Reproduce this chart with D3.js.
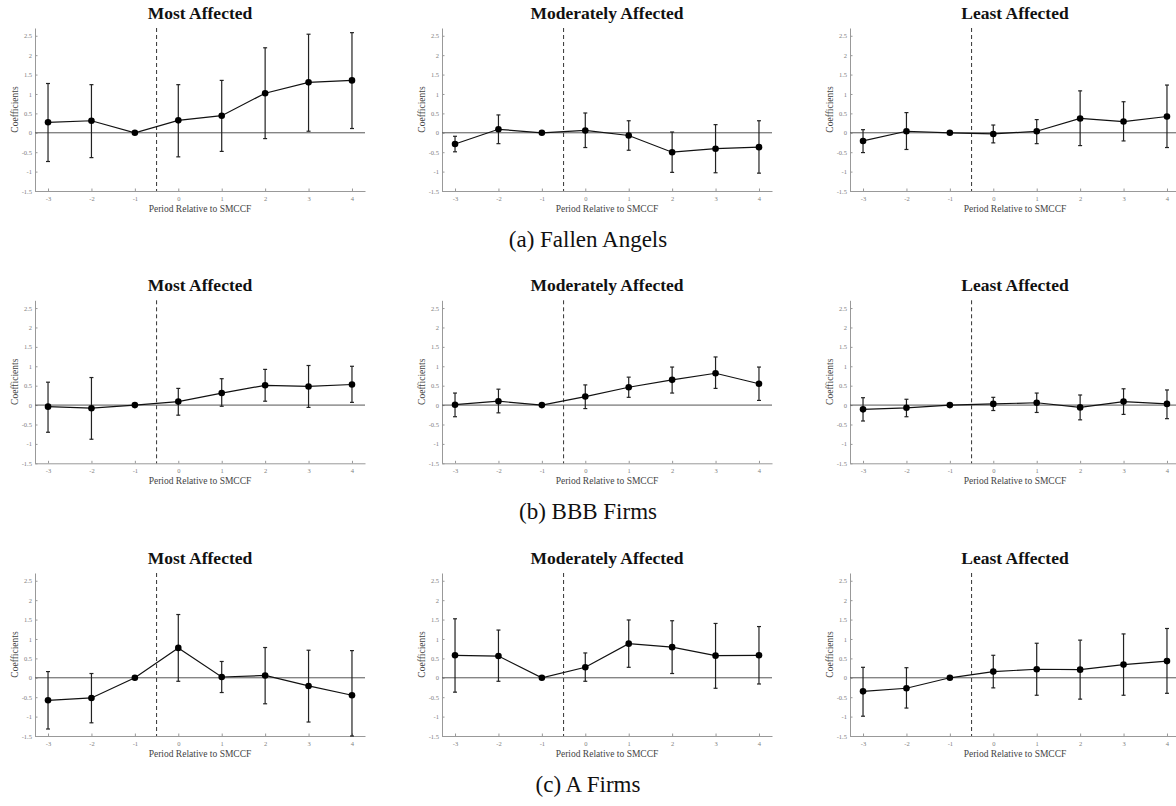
<!DOCTYPE html>
<html>
<head>
<meta charset="utf-8">
<title>Event study coefficients</title>
<style>
  body { margin: 0; background: #fff; }
  svg text { font-family: "Liberation Serif", "DejaVu Serif", serif; }
  .tick text { fill: #808080; font-size: 6.5px; }
  .tick line { stroke: #999; }
  .domain { stroke: #999; }
</style>
</head>
<body>
<div id="chart"></div>
<script src="https://d3js.org/d3.v7.min.js"></script>
<script>
// period relative to SMCCF
const periods = [-3, -2, -1, 0, 1, 2, 3, 4]
const panelTitles = ["Most Affected", "Moderately Affected", "Least Affected"]
const groupCaptions = ["(a) Fallen Angels", "(b) BBB Firms", "(c) A Firms"]
const yTicks = [-1.5, -1, -0.5, 0, 0.5, 1, 1.5, 2, 2.5]

// (a) Fallen Angels: most / moderately / least affected
const fallenCoef = [
  [0.27, 0.31, 0, 0.32, 0.44, 1.02, 1.30, 1.35],
  [-0.29, 0.09, 0, 0.06, -0.07, -0.50, -0.41, -0.37],
  [-0.21, 0.04, 0, -0.03, 0.04, 0.37, 0.29, 0.42]
]
const fallenLo = [
  [-0.74, -0.64, 0, -0.62, -0.48, -0.15, 0.04, 0.11],
  [-0.49, -0.28, 0, -0.38, -0.45, -1.02, -1.03, -1.04],
  [-0.51, -0.43, 0, -0.26, -0.28, -0.33, -0.21, -0.38]
]
const fallenHi = [
  [1.27, 1.24, 0, 1.24, 1.35, 2.19, 2.54, 2.58],
  [-0.09, 0.46, 0, 0.51, 0.31, 0.02, 0.21, 0.31],
  [0.08, 0.52, 0, 0.20, 0.34, 1.08, 0.80, 1.23]
]

// (b) BBB Firms
const bbbCoef = [
  [-0.04, -0.08, 0, 0.09, 0.31, 0.51, 0.48, 0.53],
  [0.01, 0.10, 0, 0.22, 0.46, 0.65, 0.82, 0.55],
  [-0.11, -0.07, 0, 0.03, 0.06, -0.06, 0.09, 0.03]
]
const bbbLo = [
  [-0.70, -0.88, 0, -0.26, -0.03, 0.10, -0.06, 0.07],
  [-0.30, -0.20, 0, -0.09, 0.20, 0.31, 0.43, 0.12],
  [-0.41, -0.30, 0, -0.14, -0.19, -0.38, -0.24, -0.35]
]
const bbbHi = [
  [0.59, 0.71, 0, 0.43, 0.68, 0.92, 1.02, 1.00],
  [0.31, 0.41, 0, 0.52, 0.72, 0.98, 1.24, 0.98],
  [0.19, 0.15, 0, 0.20, 0.31, 0.26, 0.42, 0.39]
]

// (c) A Firms
const aCoef = [
  [-0.58, -0.52, 0, 0.77, 0.02, 0.06, -0.21, -0.45],
  [0.58, 0.56, 0, 0.27, 0.88, 0.79, 0.57, 0.58],
  [-0.35, -0.27, 0, 0.16, 0.22, 0.21, 0.34, 0.43]
]
const aLo = [
  [-1.32, -1.16, 0, -0.09, -0.38, -0.67, -1.14, -1.5],
  [-0.37, -0.09, 0, -0.09, 0.27, 0.11, -0.27, -0.16],
  [-0.99, -0.78, 0, -0.26, -0.45, -0.55, -0.45, -0.40]
]
const aHi = [
  [0.16, 0.11, 0, 1.63, 0.42, 0.78, 0.71, 0.70],
  [1.52, 1.23, 0, 0.64, 1.49, 1.47, 1.40, 1.32],
  [0.27, 0.26, 0, 0.58, 0.89, 0.97, 1.13, 1.27]
]

const groups = [
  { coef: fallenCoef, lo: fallenLo, hi: fallenHi },
  { coef: bbbCoef, lo: bbbLo, hi: bbbHi },
  { coef: aCoef, lo: aLo, hi: aHi }
]

const W = 1176, H = 806
const rowTop = [0, 272.3, 545]
const colLeft = [0, 407, 815]
const plot = { left: 35, right: 365, top: 28, bottom: 191 }

const svg = d3.select("#chart").append("svg")
  .attr("width", W).attr("height", H)

const x = d3.scaleLinear().domain([-3.3, 4.3]).range([plot.left, plot.right])
const y = d3.scaleLinear().domain([-1.5, 2.7]).range([plot.bottom, plot.top])

groups.forEach((grp, r) => {
  panelTitles.forEach((title, c) => {
    const g = svg.append("g")
      .attr("transform", `translate(${colLeft[c]}, ${rowTop[r]})`)

    // title
    g.append("text")
      .attr("x", (plot.left + plot.right) / 2)
      .attr("y", 19)
      .attr("text-anchor", "middle")
      .style("font-weight", "bold")
      .style("font-size", "17.5px")
      .attr("fill", "#111")
      .text(title)

    // axes (ticks point inward like matlab), plain hyphen minus
    g.append("g")
      .attr("transform", `translate(0, ${plot.bottom})`)
      .call(d3.axisBottom(x).tickValues(periods).tickSizeInner(-2.5).tickSizeOuter(0).tickPadding(5)
        .tickFormat(d => String(d)))
    g.append("g")
      .attr("transform", `translate(${plot.left}, 0)`)
      .call(d3.axisLeft(y).tickValues(yTicks).tickSizeInner(-2.5).tickSizeOuter(0).tickPadding(3)
        .tickFormat(d => String(d)))

    // zero line
    g.append("line")
      .attr("x1", plot.left).attr("x2", plot.right)
      .attr("y1", y(0)).attr("y2", y(0))
      .attr("stroke", "#555").attr("stroke-width", 1)

    // SMCCF line
    g.append("line")
      .attr("x1", x(-0.5)).attr("x2", x(-0.5))
      .attr("y1", plot.top).attr("y2", plot.bottom)
      .attr("stroke", "#333").attr("stroke-width", 1)
      .attr("stroke-dasharray", "4,3")

    // axis labels
    g.append("text")
      .attr("x", (plot.left + plot.right) / 2)
      .attr("y", plot.bottom + 21)
      .attr("text-anchor", "middle")
      .style("font-size", "9.5px")
      .attr("fill", "#444")
      .text("Period Relative to SMCCF")
    g.append("text")
      .attr("transform", `translate(${plot.left - 20}, ${(plot.top + plot.bottom) / 2}) rotate(-90)`)
      .attr("text-anchor", "middle")
      .attr("dy", "0.35em")
      .style("font-size", "9.5px")
      .attr("fill", "#444")
      .text("Coefficients")

    const pts = periods.map((p, i) => ({
      p: p, v: grp.coef[c][i], lo: grp.lo[c][i], hi: grp.hi[c][i]
    }))

    // error bars
    const eb = g.append("g").attr("stroke", "#222").attr("stroke-width", 1.2)
    pts.filter(d => d.hi !== d.lo).forEach(d => {
      eb.append("line")
        .attr("x1", x(d.p)).attr("x2", x(d.p))
        .attr("y1", y(d.hi)).attr("y2", y(d.lo))
      eb.append("line")
        .attr("x1", x(d.p) - 2).attr("x2", x(d.p) + 2)
        .attr("y1", y(d.hi)).attr("y2", y(d.hi))
      eb.append("line")
        .attr("x1", x(d.p) - 2).attr("x2", x(d.p) + 2)
        .attr("y1", y(d.lo)).attr("y2", y(d.lo))
    })

    g.append("path")
      .datum(pts)
      .attr("fill", "none")
      .attr("stroke", "#111")
      .attr("stroke-width", 1.2)
      .attr("d", d3.line().x(d => x(d.p)).y(d => y(d.v)))

    g.selectAll("circle.pt")
      .data(pts)
      .join("circle")
      .attr("class", "pt")
      .attr("cx", d => x(d.p))
      .attr("cy", d => y(d.v))
      .attr("r", 3.3)
      .attr("fill", "#000")
  })

  // group caption
  svg.append("text")
    .attr("x", 588)
    .attr("y", rowTop[r] + 247)
    .attr("text-anchor", "middle")
    .style("font-size", "23px")
    .attr("fill", "#111")
    .text(groupCaptions[r])
})
</script>
</body>
</html>
